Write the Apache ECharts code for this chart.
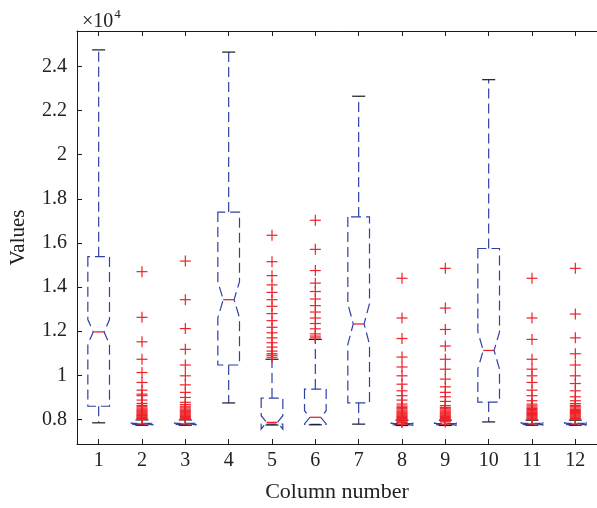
<!DOCTYPE html>
<html>
<head>
<meta charset="utf-8">
<script src="https://cdn.jsdelivr.net/npm/echarts@6/dist/echarts.min.js"></script>
<style>
html,body{margin:0;padding:0;background:#fff;}
#chart{width:597px;height:508px;}
</style>
</head>
<body>
<div id="chart"></div>
<script>
// ---- data (values in units of 10^4) ----
var categories = ['1','2','3','4','5','6','7','8','9','10','11','12'];
var whiskerLow  = [0.785, 0.774, 0.774, 0.875, 0.775, 0.776, 0.779, 0.773, 0.773, 0.789, 0.774, 0.774];
var q1          = [0.860, 0.777, 0.777, 1.047, 0.779, 0.778, 0.875, 0.776, 0.776, 0.879, 0.777, 0.777];
var median      = [1.197, 0.780, 0.780, 1.343, 0.787, 0.810, 1.233, 0.779, 0.779, 1.113, 0.780, 0.780];
var q3          = [1.538, 0.783, 0.783, 1.740, 0.897, 0.938, 1.718, 0.782, 0.782, 1.575, 0.783, 0.783];
var whiskerHigh = [2.475, 0.798, 0.798, 2.465, 1.073, 1.163, 2.265, 0.797, 0.797, 2.340, 0.797, 0.797];
var notchHalf   = [0.056, 0.004, 0.004, 0.082, 0.030, 0.030, 0.092, 0.005, 0.005, 0.084, 0.005, 0.005];

var outliers2  = [1.470, 1.263, 1.152, 1.073, 1.013, 0.968, 0.933, 0.915, 0.908, 0.888, 0.873, 0.864, 0.858, 0.852, 0.847, 0.842, 0.838, 0.834, 0.830, 0.826, 0.822, 0.818, 0.815, 0.811, 0.808, 0.805, 0.802];
var outliers3  = [1.518, 1.343, 1.212, 1.118, 1.047, 0.998, 0.957, 0.923, 0.900, 0.878, 0.868, 0.860, 0.853, 0.847, 0.842, 0.837, 0.833, 0.829, 0.825, 0.821, 0.817, 0.814, 0.810, 0.807, 0.804, 0.801];
var outliers5  = [1.635, 1.515, 1.452, 1.410, 1.376, 1.343, 1.313, 1.280, 1.248, 1.218, 1.193, 1.170, 1.148, 1.128, 1.110, 1.098, 1.091, 1.082];
var outliers6  = [1.703, 1.571, 1.475, 1.418, 1.380, 1.346, 1.316, 1.287, 1.260, 1.235, 1.211, 1.188, 1.178, 1.170];
var outliers8  = [1.440, 1.260, 1.167, 1.083, 1.038, 0.998, 0.960, 0.930, 0.908, 0.888, 0.870, 0.861, 0.855, 0.849, 0.843, 0.838, 0.833, 0.829, 0.825, 0.821, 0.817, 0.813, 0.809, 0.805, 0.801, 0.797, 0.793, 0.789, 0.786];
var outliers9  = [1.485, 1.305, 1.208, 1.133, 1.073, 1.028, 0.983, 0.948, 0.923, 0.903, 0.882, 0.863, 0.855, 0.849, 0.843, 0.838, 0.833, 0.829, 0.825, 0.821, 0.817, 0.813, 0.809, 0.805, 0.801, 0.797, 0.793, 0.789];
var outliers11 = [1.440, 1.260, 1.163, 1.073, 1.028, 0.998, 0.968, 0.933, 0.908, 0.885, 0.870, 0.862, 0.856, 0.850, 0.845, 0.840, 0.835, 0.831, 0.827, 0.823, 0.819, 0.815, 0.811, 0.807, 0.803, 0.800];
var outliers12 = [1.485, 1.278, 1.170, 1.098, 1.047, 0.998, 0.963, 0.930, 0.903, 0.885, 0.872, 0.864, 0.858, 0.852, 0.846, 0.841, 0.836, 0.832, 0.828, 0.824, 0.820, 0.816, 0.812, 0.808, 0.804, 0.801];
var outlierSets = {1: outliers2, 2: outliers3, 4: outliers5, 5: outliers6, 7: outliers8, 8: outliers9, 10: outliers11, 11: outliers12};

var yTicks = [0.8, 1.0, 1.2, 1.4, 1.6, 1.8, 2.0, 2.2, 2.4];

// ---- build series data ----
var boxData = categories.map(function (c, i) {
  return [i, whiskerLow[i], q1[i], median[i], q3[i], whiskerHigh[i], notchHalf[i]];
});
var outlierData = [];
Object.keys(outlierSets).forEach(function (k) {
  outlierSets[k].forEach(function (v) { outlierData.push([+k, v]); });
});

var BLUE = '#3040a6', RED = '#ee2229', BLACK = '#1a1a1a';
var DASH = [10, 5];
var FONT = '"Liberation Serif","DejaVu Serif",serif';

function renderBox(params, api) {
  var i = api.value(0);
  var band = api.size([1, 0])[0];
  var half = band * 0.25, inset = half * 0.5, capHalf = band * 0.15;
  var cx = api.coord([i, 0])[0];
  var yLow = api.coord([i, api.value(1)])[1];
  var yQ1 = api.coord([i, api.value(2)])[1];
  var yMed = api.coord([i, api.value(3)])[1];
  var yQ3 = api.coord([i, api.value(4)])[1];
  var yHigh = api.coord([i, api.value(5)])[1];
  var nh = api.value(6);
  var yNu = api.coord([i, api.value(3) + nh])[1];
  var yNl = api.coord([i, api.value(3) - nh])[1];
  var L = cx - half, R = cx + half;
  var dashed = {stroke: BLUE, lineWidth: 1.2, lineDash: DASH, fill: null};
  return {
    type: 'group',
    children: [
      {type: 'line', shape: {x1: cx, y1: yQ3, x2: cx, y2: yHigh}, style: dashed},
      {type: 'line', shape: {x1: cx, y1: yQ1, x2: cx, y2: yLow}, style: dashed},
      {type: 'polygon', shape: {points: [
        [L, yQ3], [L, yNu], [L + inset, yMed], [L, yNl], [L, yQ1],
        [R, yQ1], [R, yNl], [R - inset, yMed], [R, yNu], [R, yQ3]
      ]}, style: {stroke: BLUE, lineWidth: 1.2, lineDash: DASH, fill: null}},
      {type: 'line', shape: {x1: cx - capHalf, y1: yHigh, x2: cx + capHalf, y2: yHigh}, style: {stroke: BLACK, lineWidth: 1.2}},
      {type: 'line', shape: {x1: cx - capHalf, y1: yLow, x2: cx + capHalf, y2: yLow}, style: {stroke: BLACK, lineWidth: 1.2}},
      {type: 'line', shape: {x1: L + inset, y1: yMed, x2: R - inset, y2: yMed}, style: {stroke: RED, lineWidth: 1.3}}
    ]
  };
}

function renderPlus(params, api) {
  var p = api.coord([api.value(0), api.value(1)]);
  var s = 5.5;
  return {
    type: 'group',
    children: [
      {type: 'line', shape: {x1: p[0] - s, y1: p[1], x2: p[0] + s, y2: p[1]}, style: {stroke: RED, lineWidth: 1.2}},
      {type: 'line', shape: {x1: p[0], y1: p[1] - s, x2: p[0], y2: p[1] + s}, style: {stroke: RED, lineWidth: 1.2}}
    ]
  };
}

var chart = echarts.init(document.getElementById('chart'), null, {renderer: 'canvas'});
var axisLine = {show: true, lineStyle: {color: BLACK, width: 1}};
chart.setOption({
  animation: false,
  backgroundColor: '#fff',
  title: {
    text: '{a|×10}{s|4}',
    left: 77, top: 3,
    textStyle: {
      fontWeight: 'normal',
      rich: {
        a: {fontFamily: FONT, fontSize: 20, fontWeight: 'normal', color: '#222', verticalAlign: 'bottom', lineHeight: 24},
        s: {fontFamily: FONT, fontSize: 13, fontWeight: 'normal', color: '#222', verticalAlign: 'top', lineHeight: 24, padding: [0, 0, 8, 1]}
      }
    }
  },
  grid: {left: 75.5, top: 31, width: 528, bottom: 61, containLabel: false},
  xAxis: [{
    type: 'category',
    data: categories,
    position: 'bottom',
    boundaryGap: true,
    axisLine: axisLine,
    axisTick: {show: true, inside: true, alignWithLabel: true, length: 5, lineStyle: {color: BLACK}},
    axisLabel: {fontFamily: FONT, fontSize: 20, color: '#222', margin: 7},
    splitLine: {show: false},
    name: 'Column number',
    nameLocation: 'middle',
    nameGap: 37,
    nameTextStyle: {fontFamily: FONT, fontSize: 22, color: '#222'}
  }, {
    type: 'category',
    data: categories,
    position: 'top',
    boundaryGap: true,
    axisLine: axisLine,
    axisTick: {show: true, inside: true, alignWithLabel: true, length: 5, lineStyle: {color: BLACK}},
    axisLabel: {show: false},
    splitLine: {show: false}
  }],
  yAxis: {
    type: 'value',
    min: 0.689,
    max: 2.5606,
    axisLine: axisLine,
    axisTick: {show: true, inside: true, length: 5, customValues: yTicks, lineStyle: {color: BLACK}},
    axisLabel: {
      fontFamily: FONT, fontSize: 20, color: '#222', margin: 10,
      customValues: yTicks,
      formatter: function (v) { return String(+(+v).toFixed(1)); }
    },
    splitLine: {show: false},
    name: 'Values',
    nameLocation: 'middle',
    nameRotate: 90,
    nameGap: 48,
    nameTextStyle: {fontFamily: FONT, fontSize: 21, color: '#222'}
  },
  series: [{
    type: 'custom',
    renderItem: renderBox,
    data: boxData,
    encode: {x: 0, y: [1, 2, 3, 4, 5]},
    clip: false,
    z: 2
  }, {
    type: 'custom',
    renderItem: renderPlus,
    data: outlierData,
    encode: {x: 0, y: 1},
    z: 3
  }]
});
</script>
</body>
</html>
